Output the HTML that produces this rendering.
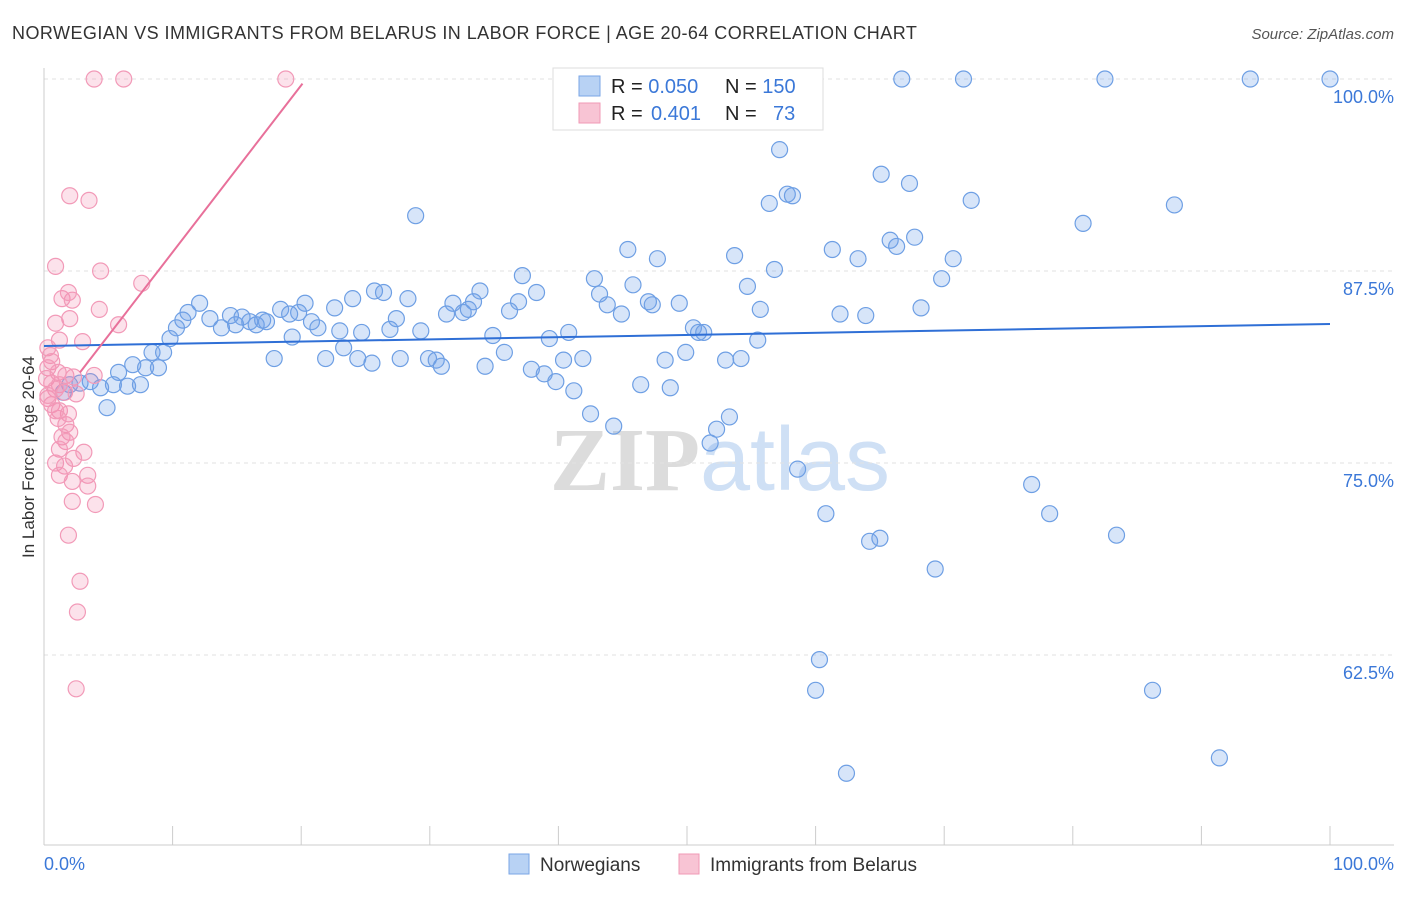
<!DOCTYPE html>
<html><head><meta charset="utf-8"><style>
body{margin:0;background:#fff;font-family:"Liberation Sans",sans-serif;}
svg text{font-family:"Liberation Sans",sans-serif;}
</style></head><body>
<svg id="chart" width="1406" height="892" xmlns="http://www.w3.org/2000/svg">
<text x="12" y="39" font-size="18" fill="#333" letter-spacing="0.45">NORWEGIAN VS IMMIGRANTS FROM BELARUS IN LABOR FORCE | AGE 20-64 CORRELATION CHART</text>
<text x="1394" y="39" font-size="15" fill="#555" font-style="italic" text-anchor="end">Source: ZipAtlas.com</text>
<text x="720" y="490" font-size="90" text-anchor="middle"><tspan fill="#dcdcdc" font-family="Liberation Serif" font-weight="bold">ZIP</tspan><tspan fill="#cfe0f5">atlas</tspan></text>
<g id="grid"></g>
<g id="axes"></g>
<g id="pts"></g>
<g id="trend"></g>
<text transform="translate(34,457) rotate(-90)" font-size="17" fill="#333" text-anchor="middle">In Labor Force | Age 20-64</text>
<text x="44" y="870" font-size="18" fill="#3b78d8">0.0%</text>
<text x="1394" y="870" font-size="18" fill="#3b78d8" text-anchor="end">100.0%</text>
<g>
<rect x="553" y="68" width="270" height="62" fill="#fff" stroke="#ddd"/>
<rect x="579" y="76" width="21" height="20" fill="#b8d2f4" stroke="#7aa6e6"/>
<rect x="579" y="103" width="21" height="20" fill="#f8c4d4" stroke="#f09ab6"/>
<text x="611" y="93" font-size="20" fill="#222">R = <tspan fill="#3b78d8">0.050</tspan><tspan x="725">N = </tspan><tspan fill="#3b78d8">150</tspan></text>
<text x="611" y="120" font-size="20" fill="#222">R = <tspan x="651" fill="#3b78d8">0.401</tspan><tspan x="725">N = </tspan><tspan x="773" fill="#3b78d8">73</tspan></text>
</g>
<g>
<rect x="509" y="854" width="20" height="20" fill="#b8d2f4" stroke="#7aa6e6"/>
<text x="540" y="871" font-size="19" fill="#333">Norwegians</text>
<rect x="679" y="854" width="20" height="20" fill="#f8c4d4" stroke="#f09ab6"/>
<text x="710" y="871" font-size="19" fill="#333">Immigrants from Belarus</text>
</g>
</svg>
<script>
const yTicks=[100,87.5,75,62.5];
const yTickLabels=["100.0%","87.5%","75.0%","62.5%"];
const xTicks=[0,10,20,30,40,50,60,70,80,90,100];
const blueX=[66.7,71.5,82.5,93.8,100,57.2,57.8,58.2,56.4,65.1,67.3,72.1,87.9,80.8,28.9,45.4,47.7,53.7,61.3,63.3,65.8,66.3,67.7,70.7,56.8,37.2,42.8,45.8,54.7,69.8,43.2,43.8,44.9,47.0,47.3,49.4,55.7,61.9,63.9,68.2,33.9,38.3,36.9,36.2,33.4,31.8,32.6,31.3,33.0,25.7,26.4,24.0,28.3,22.6,20.3,18.4,19.8,20.8,19.1,21.3,23.0,24.7,26.9,29.3,27.4,12.1,11.2,10.8,10.3,9.8,12.9,13.8,14.5,14.9,15.4,16.0,16.5,17.0,17.3,19.3,23.3,8.4,9.3,6.9,7.9,8.9,5.8,5.4,6.5,7.5,4.4,4.9,2.8,2.0,1.5,3.6,17.9,21.9,24.4,25.5,27.7,29.9,30.5,30.9,34.3,35.8,34.9,39.3,40.8,40.4,41.9,37.9,38.9,39.8,41.2,46.4,48.7,42.5,44.3,48.3,49.9,50.5,50.9,51.3,53.0,54.2,55.5,53.3,52.3,51.8,58.6,60.8,64.2,65.0,69.3,76.8,78.2,83.4,60.3,60.0,62.4,86.2,91.4];
const blueY=[100,100,100,100,100,95.4,92.5,92.4,91.9,93.8,93.2,92.1,91.8,90.6,91.1,88.9,88.3,88.5,88.9,88.3,89.5,89.1,89.7,88.3,87.6,87.2,87.0,86.6,86.5,87.0,86.0,85.3,84.7,85.5,85.3,85.4,85.0,84.7,84.6,85.1,86.2,86.1,85.5,84.9,85.5,85.4,84.8,84.7,85.0,86.2,86.1,85.7,85.7,85.1,85.4,85.0,84.8,84.2,84.7,83.8,83.6,83.5,83.7,83.6,84.4,85.4,84.8,84.3,83.8,83.1,84.4,83.8,84.6,84.0,84.5,84.2,84.0,84.3,84.2,83.2,82.5,82.2,82.2,81.4,81.2,81.2,80.9,80.1,80.0,80.1,79.9,78.6,80.2,80.1,79.6,80.3,81.8,81.8,81.8,81.5,81.8,81.8,81.7,81.3,81.3,82.2,83.3,83.1,83.5,81.7,81.8,81.1,80.8,80.3,79.7,80.1,79.9,78.2,77.4,81.7,82.2,83.8,83.5,83.5,81.7,81.8,83.0,78.0,77.2,76.3,74.6,71.7,69.9,70.1,68.1,73.6,71.7,70.3,62.2,60.2,54.8,60.2,55.8];
const pinkX=[3.9,6.2,18.8,2.0,3.5,0.9,4.4,7.6,1.4,2.2,1.9,4.3,2.0,0.9,5.8,1.2,3.0,0.3,0.5,0.6,0.3,1.1,1.7,2.3,0.2,0.6,1.2,0.9,1.6,2.5,0.3,0.6,1.2,1.9,1.1,1.7,2.0,1.4,1.7,1.2,3.1,2.3,0.9,1.6,3.4,1.2,2.2,3.4,2.2,4.0,1.9,2.8,2.6,2.5,3.9,0.9,0.3];
const pinkY=[100,100,100,92.4,92.1,87.8,87.5,86.7,85.7,85.6,86.1,85.0,84.4,84.1,84.0,83.0,82.9,82.5,82.0,81.6,81.2,80.9,80.7,80.6,80.5,80.2,80.1,79.8,79.6,79.5,79.2,78.8,78.4,78.2,77.9,77.5,77.0,76.7,76.4,75.9,75.7,75.3,75.0,74.8,74.2,74.2,73.8,73.5,72.5,72.3,70.3,67.3,65.3,60.3,80.7,78.4,79.4];
const blueTrendX=[0,100], blueTrendY=[82.62,84.05];
const pinkTrendX=[2.8,20.1], pinkTrendY=[80.9,99.7];

const NS="http://www.w3.org/2000/svg";
const X0=44,X1=1330,Y100=79,PX_PER=15.36;
const sx=v=>X0+(X1-X0)*v/100;
const sy=v=>Y100+(100-v)*PX_PER;
function mk(tag,attrs,parent){const e=document.createElementNS(NS,tag);for(const k in attrs)e.setAttribute(k,attrs[k]);parent.appendChild(e);return e;}
const grid=document.getElementById('grid'),axes=document.getElementById('axes'),pts=document.getElementById('pts'),trend=document.getElementById('trend');
yTicks.forEach((t,i)=>{
  const l=mk('line',{x1:44,x2:1394,y1:sy(t),y2:sy(t),stroke:'#e2e2e2','stroke-dasharray':'4,4'},grid);
  
  
  const tx=mk('text',{x:1394,y:sy(t)+24,'font-size':18,fill:'#3b78d8','text-anchor':'end'},grid);
  tx.textContent=yTickLabels[i];
  
  
});
const ya=mk('line',{x1:44,x2:44,y1:68,y2:845,stroke:'#ccc'},axes);


const xa=mk('line',{x1:44,x2:1394,y1:845,y2:845,stroke:'#ccc'},axes);


xTicks.forEach(t=>{
  const l=mk('line',{x1:sx(t),x2:sx(t),y1:826,y2:845,stroke:'#ccc'},axes);
  
  
});
blueX.forEach((x,i)=>{
  const c=mk('circle',{cx:sx(x),cy:sy(blueY[i]),r:8,fill:'rgba(110,160,232,0.28)',stroke:'#6e9fe4','stroke-width':1.2},pts);
  
  
});
pinkX.forEach((x,i)=>{
  const c=mk('circle',{cx:sx(x),cy:sy(pinkY[i]),r:8,fill:'rgba(244,140,176,0.25)',stroke:'#f29ab8','stroke-width':1.2},pts);
  
  
});
const bt=mk('line',{x1:sx(blueTrendX[0]),y1:sy(blueTrendY[0]),x2:sx(blueTrendX[1]),y2:sy(blueTrendY[1]),stroke:'#2f6fd6','stroke-width':2},trend);


const pt=mk('line',{x1:sx(pinkTrendX[0]),y1:sy(pinkTrendY[0]),x2:sx(pinkTrendX[1]),y2:sy(pinkTrendY[1]),stroke:'#e8709a','stroke-width':2},trend);


</script>
</body></html>
